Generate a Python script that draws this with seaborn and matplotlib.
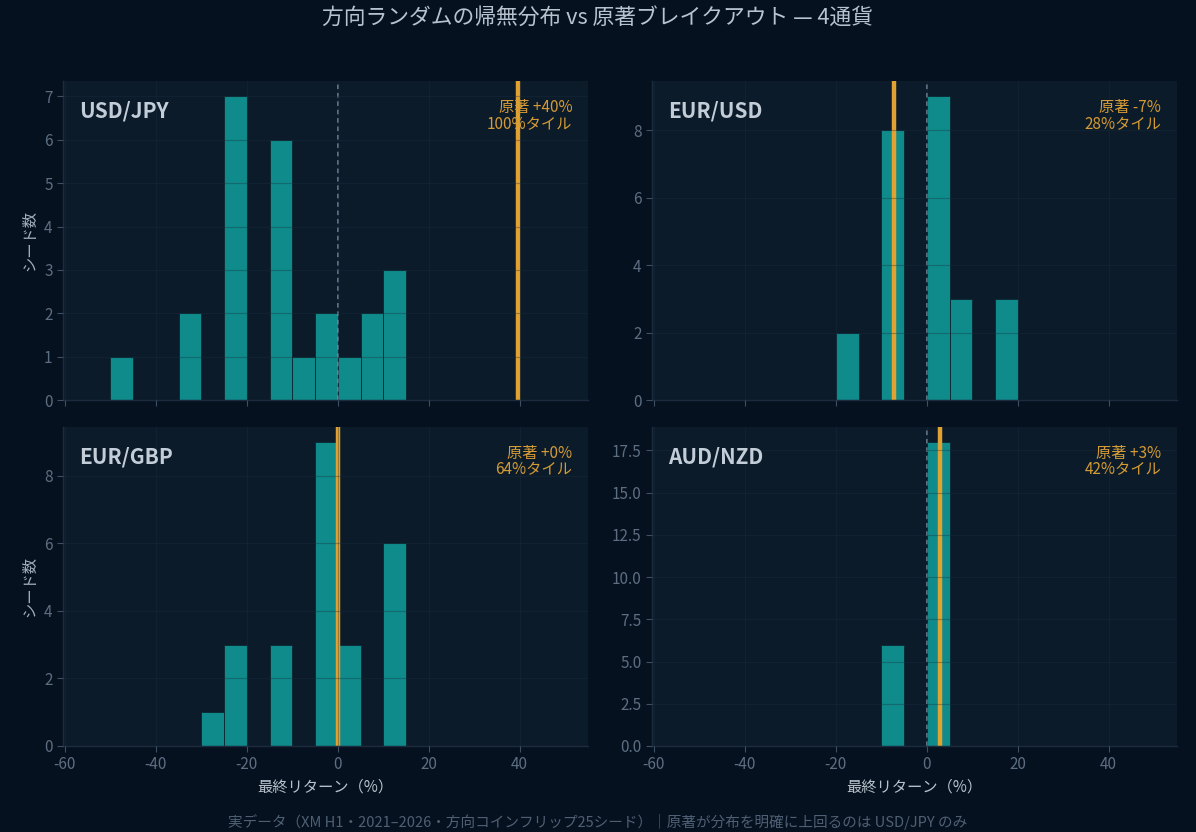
import pandas as pd
import matplotlib.pyplot as plt
import seaborn as sns

# ペア別：方向ランダム25シードの最終リターン（ビン中心, 件数）
pairs = ["USD/JPY", "EUR/USD", "EUR/GBP", "AUD/NZD"]

usdjpy_x = [-47.5, -32.5, -22.5, -12.5, -7.5, -2.5, 2.5, 7.5, 12.5]
usdjpy_n = [1, 2, 7, 6, 1, 2, 1, 2, 3]

eurusd_x = [-17.5, -7.5, 2.5, 7.5, 17.5]
eurusd_n = [2, 8, 9, 3, 3]

eurgbp_x = [-27.5, -22.5, -12.5, -2.5, 2.5, 12.5]
eurgbp_n = [1, 3, 3, 9, 3, 6]

audnzd_x = [-7.5, 2.5]
audnzd_n = [6, 18]

# 原著ブレイクアウトの最終リターンとパーセンタイル
original_ret = [39.6, -7.3, 0.0, 3.0]
original_pct = [100, 28, 64, 42]

BG = "#06111f"
PANEL = "#0b1b2a"
TEAL = "#0e8b8a"
ORANGE = "#e2a232"
TICK = "#5d6e82"
TEXT = "#c3cdd8"

sns.set_theme(style="dark")
plt.rcParams["font.family"] = ["Noto Sans CJK JP", "DejaVu Sans"]
plt.rcParams["axes.unicode_minus"] = False

fig, axes = plt.subplots(2, 2, figsize=(11.96, 8.32), dpi=100, sharex=True)
fig.patch.set_facecolor(BG)
plt.subplots_adjust(left=0.0527, right=0.9841, top=0.9026, bottom=0.1034,
                    wspace=0.122, hspace=0.083)

data = [(usdjpy_x, usdjpy_n), (eurusd_x, eurusd_n),
        (eurgbp_x, eurgbp_n), (audnzd_x, audnzd_n)]

for i, ax in enumerate(axes.flat):
    xs, ns = data[i]
    df = pd.DataFrame({"ret": xs, "n": ns})
    ax.set_facecolor(PANEL)
    sns.histplot(data=df, x="ret", weights="n", binwidth=5, binrange=(-60, 55),
                 ax=ax, color=TEAL, alpha=1, edgecolor="#0a2632", linewidth=0.6)
    ax.set_axisbelow(False)
    ax.grid(True, color="#1a3040", alpha=0.35, linewidth=0.9)
    ax.axvline(0, color="#7a8da3", linestyle="--", linewidth=1.1, dashes=(3, 2.5))
    ax.axvline(original_ret[i], color=ORANGE, linewidth=3.2)
    ax.set_xlim(-60.4, 55)
    ax.set_xticks([-60, -40, -20, 0, 20, 40])

    for s in ["top", "right"]:
        ax.spines[s].set_visible(False)
    for s in ["left", "bottom"]:
        ax.spines[s].set_color("#1c2c3e")
        ax.spines[s].set_linewidth(1.0)
    ax.tick_params(labelsize=11, length=4, width=0.8, bottom=True, left=True,
                   colors="#3e4f63", labelcolor=TICK)

    ax.text(0.03, 0.905, pairs[i], transform=ax.transAxes, fontsize=15,
            fontweight="bold", color=TEXT, va="center", ha="left")
    ax.text(0.97, 0.89, f"原著 {original_ret[i]:+.0f}%\n{original_pct[i]}%タイル",
            transform=ax.transAxes, fontsize=11, color="#d49a34",
            ha="right", va="center", linespacing=0.95)

    ax.set_ylabel("シード数" if i % 2 == 0 else "", color="#a3aebb", fontsize=11)
    ax.set_xlabel("最終リターン（%）" if i >= 2 else "", color="#b8c2cd", fontsize=11)

fig.suptitle("方向ランダムの帰無分布 vs 原著ブレイクアウト — 4通貨",
             color="#b8c3cf", fontsize=15.7, y=0.992)
fig.text(0.5, 0.012,
         "実データ（XM H1・2021–2026・方向コインフリップ25シード）｜原著が分布を明確に上回るのは USD/JPY のみ",
         color="#4f6075", fontsize=10.5, ha="center", va="center")

plt.savefig("out.png", dpi=100, facecolor=BG)
